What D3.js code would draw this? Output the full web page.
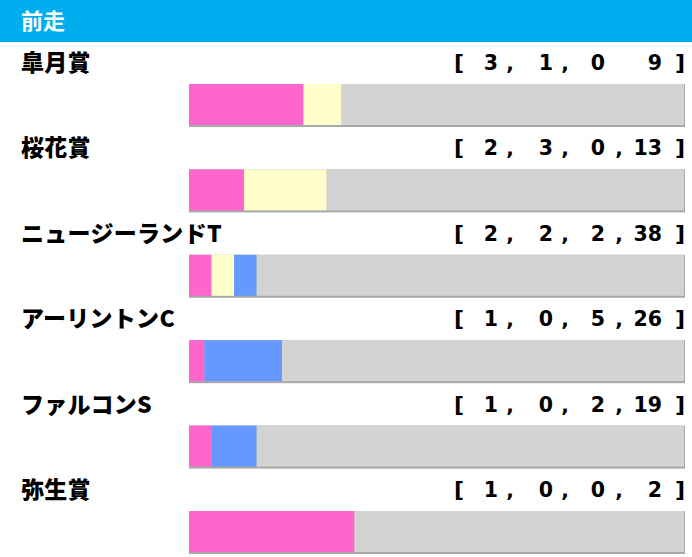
<!DOCTYPE html>
<html><head><meta charset="utf-8">
<script src="https://cdn.jsdelivr.net/npm/d3@7"></script>
<style>html,body{margin:0;padding:0;background:#fff;}svg{display:block;}</style>
</head><body>
<svg id="chart" width="692" height="557"></svg>
<script>
const title = "前走";
const races = ["皐月賞", "桜花賞", "ニュージーランドT", "アーリントンC", "ファルコンS", "弥生賞"];
const firsts  = [3, 2, 2, 1, 1, 1];
const seconds = [1, 3, 2, 0, 0, 0];
const thirds  = [0, 0, 2, 5, 2, 0];
const others  = [9, 13, 38, 26, 19, 2];
// separators shown in the bracket text (the first row lacks the last comma)
const separators = [[",", ",", ""], [",", ",", ","], [",", ",", ","], [",", ",", ","], [",", ",", ","], [",", ",", ","]];
const seriesKeys = ["first", "second", "third", "other"];
const seriesColors = ["#ff66cc", "#ffffcc", "#6699ff", "#d3d3d3"];

const rows = races.map((r, i) => ({race: r, first: firsts[i], second: seconds[i], third: thirds[i], other: others[i], seps: separators[i]}));

const svg = d3.select("#chart");
const W = 692, H = 557, headerH = 42;

svg.append("rect").attr("x", 0).attr("y", 0).attr("width", W).attr("height", headerH).attr("fill", "#00aeef");
svg.append("text").attr("x", 21).attr("y", 29).attr("fill", "#fff")
  .attr("font-family", "'Noto Sans CJK JP', sans-serif").attr("font-weight", 700).attr("font-size", 22).text(title);

const y = d3.scaleBand().domain(races).range([headerH, headerH + 85.4 * races.length]).paddingInner(0).paddingOuter(0);
const x = d3.scaleLinear().domain([0, 1]).range([189, 685]);
const color = d3.scaleOrdinal().domain(seriesKeys).range(seriesColors);

const stack = d3.stack().keys(seriesKeys).offset(d3.stackOffsetExpand);
const series = stack(rows);

const g = svg.selectAll("g.row").data(rows).join("g").attr("class", "row")
  .attr("transform", d => `translate(0,${y(d.race)})`);

g.append("text").attr("x", 21).attr("y", 29).attr("fill", "#000")
  .attr("font-family", "'Noto Sans CJK JP', sans-serif").attr("font-weight", 900).attr("font-size", 23)
  .attr("letter-spacing", 0.3)
  .text(d => d.race);

// bracket text
const numRight = [498, 553, 605, 662];
const commaX = [510, 565, 619];
const fontB = "'DejaVu Sans', sans-serif";
g.append("text").attr("x", 459).attr("y", 28).attr("text-anchor", "middle").attr("font-family", fontB)
  .attr("font-weight", 700).attr("font-size", 22).attr("fill", "#000").text("[");
g.append("text").attr("x", 680).attr("y", 28).attr("text-anchor", "middle").attr("font-family", fontB)
  .attr("font-weight", 700).attr("font-size", 22).attr("fill", "#000").text("]");
seriesKeys.forEach((k, j) => {
  g.append("text").attr("x", numRight[j]).attr("y", 28).attr("text-anchor", "end").attr("font-family", fontB)
    .attr("font-weight", 700).attr("font-size", 20.5).attr("fill", "#000").text(d => d[k]);
});
[0, 1, 2].forEach(j => {
  g.append("text").attr("x", commaX[j]).attr("y", 28).attr("text-anchor", "middle").attr("font-family", fontB)
    .attr("font-weight", 700).attr("font-size", 20).attr("fill", "#000").text(d => d.seps[j]);
});

// bars
const barTop = 42, barH = 41;
g.append("rect").attr("x", x(0)).attr("y", barTop).attr("width", x(1) - x(0)).attr("height", barH + 2).attr("fill", "#a8a8a8");
series.forEach(s => {
  svg.selectAll(null).data(s).join("rect")
    .attr("x", d => x(d[0]))
    .attr("y", (d) => y(d.data.race) + barTop)
    .attr("width", d => Math.max(0, x(d[1]) - x(d[0]) - (s.key === "other" ? 1 : 0)))
    .attr("height", barH)
    .attr("fill", color(s.key));
});
</script>
</body></html>
